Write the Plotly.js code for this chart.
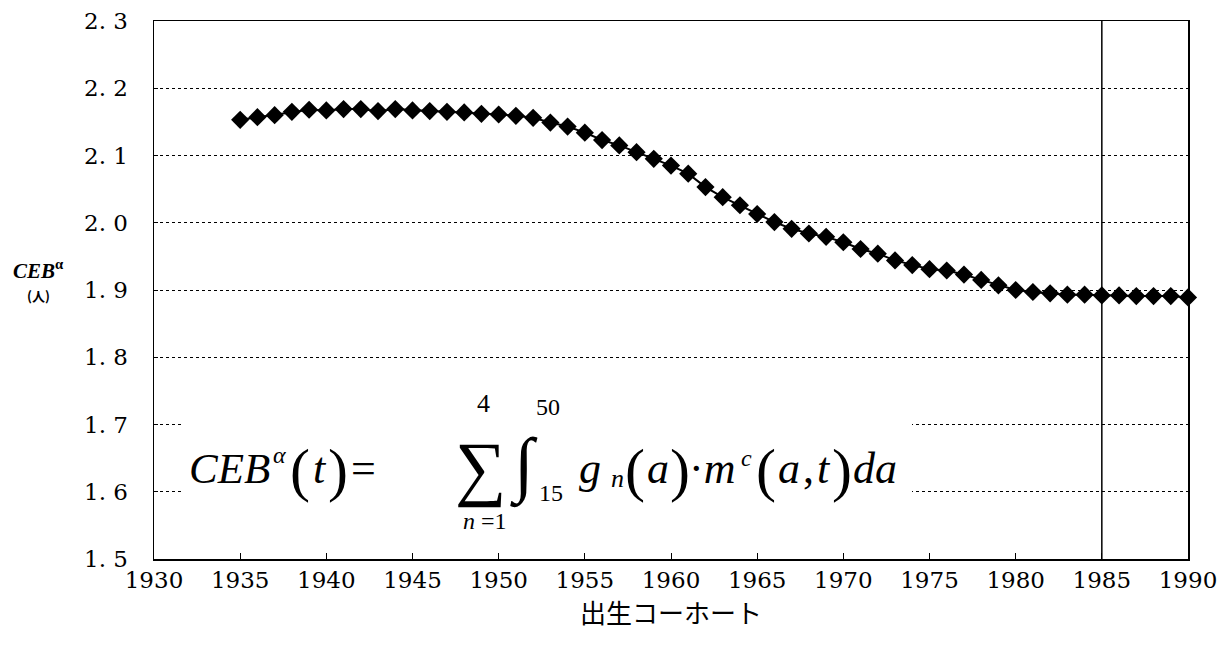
<!DOCTYPE html>
<html><head><meta charset="utf-8">
<script src="https://cdn.plot.ly/plotly-3.0.1.min.js"></script>
<style>html,body{margin:0;padding:0;background:#fff;}#chart{width:1228px;height:648px;}</style>
</head><body><div id="chart"></div>
<script>
const cohortYears = [1935,1936,1937,1938,1939,1940,1941,1942,1943,1944,1945,1946,1947,1948,1949,1950,1951,1952,1953,1954,1955,1956,1957,1958,1959,1960,1961,1962,1963,1964,1965,1966,1967,1968,1969,1970,1971,1972,1973,1974,1975,1976,1977,1978,1979,1980,1981,1982,1983,1984,1985,1986,1987,1988,1989,1990];
const cebValues = [2.153,2.157,2.160,2.165,2.168,2.167,2.169,2.169,2.166,2.169,2.167,2.166,2.165,2.164,2.162,2.161,2.159,2.156,2.149,2.143,2.134,2.123,2.115,2.105,2.095,2.085,2.073,2.053,2.038,2.026,2.013,2.001,1.991,1.984,1.979,1.971,1.961,1.954,1.944,1.937,1.931,1.929,1.923,1.915,1.907,1.900,1.897,1.895,1.893,1.893,1.892,1.892,1.891,1.891,1.891,1.889];
const xTickVals = [1930,1935,1940,1945,1950,1955,1960,1965,1970,1975,1980,1985,1990];
const xTickText = ["1930","1935","1940","1945","1950","1955","1960","1965","1970","1975","1980","1985","1990"];
const yTickVals = [1.5,1.6,1.7,1.8,1.9,2.0,2.1,2.2,2.3];
const yTickText = ["1. 5","1. 6","1. 7","1. 8","1. 9","2. 0","2. 1","2. 2","2. 3"];
const markerYear = 1985;

const L=154, R=1188, T=21, B=559;
const px = x => (x - L) / (R - L);
const py = y => (B - y) / (B - T);
const serif = "Liberation Serif, Times New Roman, serif";
const tickSerif = "DejaVu Serif, serif";

function ann(text, x, y, size, opts) {
  return Object.assign({
    text: text, xref: 'paper', yref: 'paper', x: px(x), y: py(y),
    showarrow: false, xanchor: 'left', yanchor: 'middle', borderpad: 0,
    font: {family: serif, size: size, color: '#000'}
  }, opts || {});
}
const C = {xanchor: 'center'};

const annotations = [
  ann("<b><i>CEB</i></b><sup><b>α</b></sup>", 38, 269, 21, C),
  ann("<b>(人)</b>", 38, 295, 13, {xanchor:'center', font:{family:"Noto Sans CJK JP", size:13, color:'#000'}}),
  // formula
  ann("<i>CEB</i>", 188, 468, 43),
  ann("<i>α</i>", 272, 455, 24),
  ann("(", 300, 470, 60, C),
  ann("<i>t</i>", 320, 468, 44, C),
  ann(")", 338, 470, 60, C),
  ann("=", 363, 468, 44, C),
  ann("∑", 480, 468, 72, C),
  ann("4", 483, 403, 26, C),
  ann("<i>n</i> =1", 485, 521, 24, C),
  ann("∫", 524, 466, 72, C),
  ann("50", 535, 407, 24),
  ann("15", 538, 493, 24),
  ann("<i>g</i>", 578, 468, 44),
  ann("<i>n</i>", 610, 478, 26),
  ann("(", 635, 470, 60, C),
  ann("<i>a</i>", 658, 468, 44, C),
  ann(")", 680, 470, 60, C),
  ann("·<i>m</i>", 688, 468, 44),
  ann("<i>c</i>", 740, 458, 24),
  ann("(", 766, 470, 60, C),
  ann("<i>a</i>", 789, 468, 44, C),
  ann(",", 808, 468, 44, C),
  ann("<i>t</i>", 824, 468, 44, C),
  ann(")", 842, 470, 60, C),
  ann("<i>da</i>", 852, 468, 44)
];

const trace = {
  x: cohortYears, y: cebValues, type: 'scatter', mode: 'lines+markers',
  line: {color: '#000', width: 2},
  marker: {symbol: 'diamond', size: 14, color: '#000'},
  cliponaxis: false, hoverinfo: 'skip'
};

const layout = {
  width: 1228, height: 648,
  margin: {l: L, r: 1228 - R, t: T, b: 648 - B},
  paper_bgcolor: '#fff', plot_bgcolor: '#fff',
  showlegend: false,
  font: {family: tickSerif, size: 23, color: '#000'},
  xaxis: {
    range: [1930, 1990], tickvals: xTickVals, ticktext: xTickText,
    ticks: 'inside', ticklen: 6, tickcolor: '#000',
    showgrid: false, zeroline: false,
    showline: true, linecolor: '#000', linewidth: 1.5, mirror: true,
    tickfont: {family: tickSerif, size: 23, color: '#000'},
    title: {text: '出生コーホート', font: {family: "Noto Sans CJK JP", size: 26, color: '#000'}, standoff: 6}
  },
  yaxis: {
    range: [1.5, 2.3], tickvals: yTickVals, ticktext: yTickText,
    ticks: 'inside', ticklen: 4, tickcolor: '#000',
    showgrid: true, gridcolor: '#000', gridwidth: 1, griddash: 'dot',
    zeroline: false,
    showline: true, linecolor: '#000', linewidth: 1.5, mirror: true,
    tickfont: {family: tickSerif, size: 23, color: '#000'},
    ticklabelstandoff: 20
  },
  shapes: [
    {type: 'rect', xref: 'paper', yref: 'paper', x0: px(183), x1: px(912), y0: py(530), y1: py(396),
     fillcolor: '#fff', line: {width: 0}, layer: 'above'},
    {type: 'line', xref: 'x', yref: 'paper', x0: markerYear, x1: markerYear, y0: 0, y1: 1,
     line: {color: '#000', width: 1.5}, layer: 'above'}
  ],
  annotations: annotations
};

Plotly.newPlot('chart', [trace], layout, {staticPlot: true, displayModeBar: false});
</script></body></html>
